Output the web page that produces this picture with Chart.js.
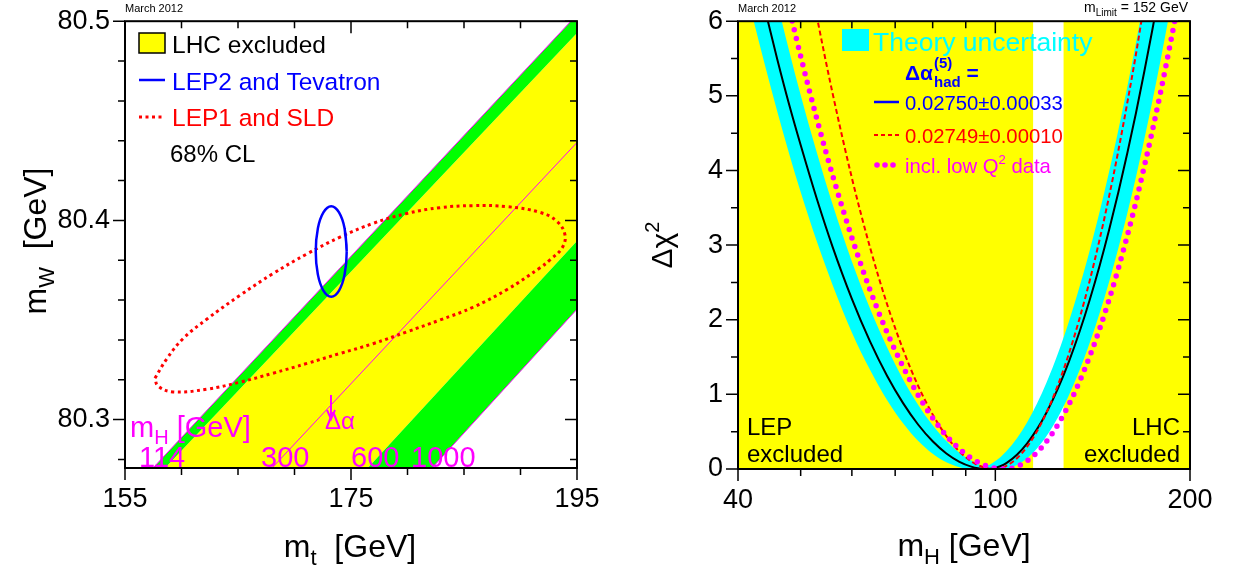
<!DOCTYPE html>
<html>
<head>
<meta charset="utf-8">
<script src="https://cdn.jsdelivr.net/npm/chart.js@4.4.1/dist/chart.umd.min.js"></script>
<style>
  body { margin: 0; background: #fff; }
  #wrap { position: relative; width: 1234px; height: 569px; }
  canvas { position: absolute; top: 0; }
  #left { left: 0; }
  #right { left: 617px; }
</style>
</head>
<body>
<div id="wrap">
  <canvas id="left" width="617" height="569"></canvas>
  <canvas id="right" width="617" height="569"></canvas>
</div>
<script>
// ---- left panel: mW vs mt ----
const mtTicks = [155, 160, 165, 170, 175, 180, 185, 190, 195];
const mtLabels = [155, 175, 195];
const mwTicks = [80.28, 80.30, 80.32, 80.34, 80.36, 80.38, 80.40, 80.42, 80.44, 80.46, 80.48, 80.50];
const mwLabels = [80.3, 80.4, 80.5];

// SM lines of constant mH, [mt, mW] end points (clipped by the frame)
const lineMH114 = [[156.54, 80.27], [200, 80.5336]];
const lineMH127 = [[157.59, 80.27], [200, 80.5240]];
const lineMH300 = [[167.00, 80.2696], [200, 80.4694]];
const lineMH600 = [[175.56, 80.27], [200, 80.4204]];
const lineMH1000 = [[181.25, 80.27], [200, 80.3865]];

// 68% CL contours
const lep2Mt = [174.62, 174.44, 173.94, 173.25, 172.56, 172.06, 171.88, 172.06, 172.56, 173.25, 173.94, 174.44, 174.62, 174.44];
const lep2Mw = [80.3844, 80.3957, 80.4040, 80.4071, 80.4040, 80.3957, 80.3844, 80.3731, 80.3648, 80.3617, 80.3648, 80.3731, 80.3844, 80.3957];
const lep1Mt = [157.65, 158.72, 160.13, 162.26, 165.18, 168.10, 171.11, 174.03, 176.95, 179.96, 182.88, 185.80, 188.81, 191.73, 193.23, 193.94,
                193.67, 192.61, 191.73, 188.81, 185.80, 182.88, 179.96, 176.95, 174.03, 171.11, 168.10, 165.18, 162.26, 159.25, 157.92, 157.65];
const lep1Mw = [80.3208, 80.3307, 80.3406, 80.3505, 80.3624, 80.3733, 80.3832, 80.3916, 80.3985, 80.4035, 80.4064, 80.4074, 80.4069, 80.4040, 80.3995, 80.3926,
                80.3861, 80.3802, 80.3762, 80.3653, 80.3564, 80.3500, 80.3441, 80.3381, 80.3332, 80.3282, 80.3233, 80.3188, 80.3153, 80.3139, 80.3168, 80.3208];

// ---- right panel: delta chi2 vs mH ----
const mhTicks = [40, 50, 60, 70, 80, 90, 100, 200];
const mhLabels = [40, 100, 200];
const chiTicks = [0, 0.5, 1, 1.5, 2, 2.5, 3, 3.5, 4, 4.5, 5, 5.5, 6];
const chiLabels = [0, 1, 2, 3, 4, 5, 6];

const lepExcluded = [[40, 0], [40, 6], [114.4, 6], [114.4, 0]];
const lhcExcluded = [[127.5, 0], [127.5, 6], [200, 6], [200, 0]];

const bandMh = [40, 42, 44, 46, 48, 50, 53, 56, 60, 64, 68, 72, 76, 80, 84, 88, 92, 94, 96, 98, 100, 102, 104, 108, 112, 116, 120, 125, 130, 135, 140, 145, 150, 155, 160, 165, 170, 175, 180, 185, 190];
const bandHigh = [8.64, 7.76, 6.97, 6.25, 5.60, 5.01, 4.23, 3.55, 2.78, 2.15, 1.63, 1.20, 0.858, 0.586, 0.375, 0.218, 0.107, 0.068, 0.038, 0.058, 0.106, 0.165, 0.237, 0.413, 0.628, 0.878, 1.159, 1.551, 1.981, 2.444, 2.935, 3.450, 3.988, 4.547, 5.122, 5.711, 6.324, 6.937, 7.563, 8.198, 8.833];
const bandLow = [6.89, 6.11, 5.42, 4.79, 4.22, 3.71, 3.04, 2.47, 1.83, 1.33, 0.925, 0.613, 0.376, 0.205, 0.0897, 0.0238, 0, 0, 0, 0, 0, 0, 0.0056, 0.0533, 0.145, 0.276, 0.442, 0.695, 0.991, 1.326, 1.694, 2.090, 2.513, 2.960, 3.428, 3.912, 4.422, 4.937, 5.467, 6.010, 6.555];

const fitMh = [42, 44, 46, 48, 50, 53, 56, 60, 64, 68, 72, 76, 80, 84, 88, 92, 94, 96, 97, 98, 100, 102, 104, 108, 112, 116, 120, 125, 130, 135, 140, 145, 150, 155, 160, 165, 170, 175, 180, 185];
const fitChi2 = [6.91, 6.17, 5.49, 4.88, 4.34, 3.61, 2.98, 2.28, 1.71, 1.25, 0.883, 0.593, 0.371, 0.208, 0.0965, 0.029, 0.0108, 0.0014, 0, 0.0012, 0.0142, 0.04, 0.079, 0.191, 0.344, 0.534, 0.758, 1.081, 1.443, 1.842, 2.272, 2.727, 3.208, 3.711, 4.233, 4.769, 5.33, 5.895, 6.47, 7.06];

const altMh = [48, 50, 53, 56, 60, 64, 68, 72, 76, 80, 84, 88, 92, 94, 96, 98, 100, 102, 104, 108, 112, 116, 120, 125, 130, 135, 140, 145, 150, 155, 160, 165, 170, 175];
const altChi2 = [8.09, 7.22, 6.05, 5.04, 3.90, 2.97, 2.21, 1.60, 1.11, 0.730, 0.441, 0.234, 0.096, 0.051, 0.021, 0.004, 0.0003, 0.012, 0.041, 0.143, 0.301, 0.506, 0.757, 1.127, 1.55, 2.02, 2.53, 3.08, 3.66, 4.27, 4.91, 5.56, 6.25, 6.94];

const lowQ2Mh = [44, 46, 48, 50, 53, 56, 60, 64, 68, 72, 76, 80, 84, 88, 92, 94, 96, 98, 100, 102, 104, 108, 112, 116, 120, 125, 130, 135, 140, 145, 150, 155, 160, 165, 170, 175, 180, 185, 190];
const lowQ2Chi2 = [7.65, 6.87, 6.17, 5.53, 4.68, 3.94, 3.10, 2.40, 1.83, 1.37, 0.986, 0.683, 0.447, 0.268, 0.139, 0.092, 0.056, 0.028, 0.011, 0.0015, 0.001, 0.033, 0.109, 0.221, 0.369, 0.597, 0.867, 1.174, 1.513, 1.880, 2.274, 2.691, 3.127, 3.580, 4.058, 4.541, 5.038, 5.548, 6.061];

const FONT = '"Liberation Sans", Arial, Helvetica, sans-serif';
Chart.defaults.font.family = FONT;

function isMajor(v, list) {
  return list.some(m => Math.abs(m - v) < 1e-9);
}

function pairs(arr) {
  return arr.map(p => ({ x: p[0], y: p[1] }));
}

function zip(xs, ys) {
  return xs.map((x, i) => ({ x: x, y: ys[i] }));
}

function shape(points, color, order) {
  return {
    data: points, showLine: true, fill: 'shape', backgroundColor: color,
    borderColor: 'rgba(0,0,0,0)', borderWidth: 0, pointRadius: 0, order: order
  };
}

function curve(points, color, width, dash, order, extra) {
  return Object.assign({
    data: points, showLine: true, fill: false, borderColor: color, borderWidth: width,
    borderDash: dash, pointRadius: 0, order: order
  }, extra || {});
}

// rich text: parts = [{t, s, dy, b}]
function txt(ctx, x, y, parts, align) {
  let w = 0;
  parts.forEach(p => {
    ctx.font = (p.b ? 'bold ' : '') + p.s + 'px ' + FONT;
    p.w = ctx.measureText(p.t).width;
    w += p.w;
  });
  let cx = align === 'center' ? x - w / 2 : (align === 'right' ? x - w : x);
  ctx.textAlign = 'left';
  ctx.textBaseline = 'alphabetic';
  parts.forEach(p => {
    ctx.font = (p.b ? 'bold ' : '') + p.s + 'px ' + FONT;
    ctx.fillText(p.t, cx, y + (p.dy || 0));
    cx += p.w;
  });
  return cx;
}

function seg(ctx, x1, y1, x2, y2, color, width, dash) {
  ctx.save();
  ctx.strokeStyle = color;
  ctx.lineWidth = width;
  ctx.setLineDash(dash || []);
  ctx.beginPath();
  ctx.moveTo(x1, y1);
  ctx.lineTo(x2, y2);
  ctx.stroke();
  ctx.restore();
}

// frame with ticks: outside on bottom/left, inside on top/right
function frame(xTicks, xMajor, yTicks, yMajor, decorate) {
  return {
    id: 'frame',
    afterDraw(chart) {
      const ctx = chart.ctx, a = chart.chartArea;
      const xs = chart.scales.x, ys = chart.scales.y;
      ctx.save();
      ctx.strokeStyle = '#000';
      ctx.lineWidth = 1.5;
      ctx.beginPath();
      xTicks.forEach(v => {
        const px = xs.getPixelForValue(v);
        const len = isMajor(v, xMajor) ? 12 : 7;
        ctx.moveTo(px, a.bottom); ctx.lineTo(px, a.bottom + len);
        ctx.moveTo(px, a.top); ctx.lineTo(px, a.top + len);
      });
      yTicks.forEach(v => {
        const py = ys.getPixelForValue(v);
        const len = isMajor(v, yMajor) ? 12 : 7;
        ctx.moveTo(a.left - len, py); ctx.lineTo(a.left, py);
        ctx.moveTo(a.right - len, py); ctx.lineTo(a.right, py);
      });
      ctx.stroke();
      ctx.lineWidth = 2;
      ctx.strokeRect(a.left, a.top, a.right - a.left, a.bottom - a.top);
      decorate(ctx, chart);
      ctx.restore();
    }
  };
}

function axisOpts(type, min, max, tickVals, labels, fmt, size) {
  return {
    type: type, min: min, max: max,
    afterBuildTicks: s => { s.ticks = tickVals.map(v => ({ value: v })); },
    grid: { display: true, drawOnChartArea: false, drawTicks: true, tickLength: 10, tickColor: 'rgba(0,0,0,0)' },
    border: { display: false },
    ticks: {
      autoSkip: false, maxRotation: 0, minRotation: 0, padding: 5, color: '#000',
      font: { size: 27 },
      callback: v => isMajor(v, labels) ? fmt(v) : ''
    },
    afterFit: s => { if (s.isHorizontal()) s.height = size; else s.width = size; }
  };
}

// ---- left chart ----
function decorLeft(ctx) {
  ctx.fillStyle = '#000';
  txt(ctx, 125, 12, [{ t: 'March 2012', s: 11 }]);

  ctx.fillStyle = '#ffff00';
  ctx.fillRect(139, 33, 26, 20);
  ctx.strokeStyle = '#000';
  ctx.lineWidth = 1.5;
  ctx.strokeRect(139, 33, 26, 20);
  ctx.fillStyle = '#000';
  txt(ctx, 172, 53, [{ t: 'LHC excluded', s: 24.5 }]);

  seg(ctx, 139, 80, 165, 80, '#0000ff', 2.5);
  ctx.fillStyle = '#0000ff';
  txt(ctx, 172, 90, [{ t: 'LEP2 and Tevatron', s: 24.5 }]);

  seg(ctx, 139, 117, 165, 117, '#ff0000', 3, [3, 3.5]);
  ctx.fillStyle = '#ff0000';
  txt(ctx, 172, 126, [{ t: 'LEP1 and SLD', s: 24.5 }]);

  ctx.fillStyle = '#000';
  txt(ctx, 170, 162, [{ t: '68% CL', s: 24 }]);

  // mH labels along the bottom
  ctx.fillStyle = '#ff00ff';
  txt(ctx, 130, 437, [{ t: 'm', s: 29 }, { t: 'H', s: 20, dy: 7 }, { t: ' [GeV]', s: 29 }]);
  txt(ctx, 139, 467, [{ t: '114', s: 29 }]);
  txt(ctx, 261, 467, [{ t: '300', s: 29 }]);
  txt(ctx, 351, 467, [{ t: '600', s: 29 }]);
  txt(ctx, 411, 467, [{ t: '1000', s: 29 }]);

  seg(ctx, 331, 395, 331, 419, '#ff00ff', 2);
  ctx.strokeStyle = '#ff00ff';
  ctx.lineWidth = 2;
  ctx.beginPath();
  ctx.moveTo(327, 410); ctx.lineTo(331, 419); ctx.lineTo(335, 410);
  ctx.stroke();
  txt(ctx, 325, 429, [{ t: '\u0394\u03b1', s: 24 }]);

  // axis titles
  ctx.fillStyle = '#000';
  txt(ctx, 350, 557, [{ t: 'm', s: 32 }, { t: 't', s: 22, dy: 8 }, { t: '  [GeV]', s: 32 }], 'center');
  ctx.save();
  ctx.translate(46, 241);
  ctx.rotate(-Math.PI / 2);
  txt(ctx, 0, 0, [{ t: 'm', s: 32 }, { t: 'W', s: 22, dy: 8 }, { t: '  [GeV]', s: 32 }], 'center');
  ctx.restore();
}

const greenLow = pairs(lineMH114.concat(lineMH127.slice().reverse()));
const yellowMid = pairs(lineMH127.concat(lineMH600.slice().reverse()));
const greenHigh = pairs(lineMH600.concat(lineMH1000.slice().reverse()));

new Chart(document.getElementById('left'), {
  type: 'scatter',
  data: {
    datasets: [
      curve(zip(lep2Mt, lep2Mw), '#0000ff', 2.5, [], 0, { tension: 0.45 }),
      curve(zip(lep1Mt, lep1Mw), '#ff0000', 3, [3, 3.5], 1, { tension: 0.4 }),
      curve(pairs(lineMH114), '#ff00ff', 1, [], 2),
      curve(pairs(lineMH300), '#ff00ff', 1, [], 2),
      curve(pairs(lineMH1000), '#ff00ff', 1, [], 2),
      shape(greenLow, '#00ff00', 5),
      shape(greenHigh, '#00ff00', 5),
      shape(yellowMid, '#ffff00', 6)
    ]
  },
  options: {
    responsive: false, animation: false, devicePixelRatio: 1,
    layout: { padding: { left: 0, top: 15, right: 40, bottom: 0 } },
    plugins: { legend: { display: false }, tooltip: { enabled: false } },
    scales: {
      x: axisOpts('linear', 155, 195, mtTicks, mtLabels, v => String(v), 101),
      y: axisOpts('linear', 80.2757, 80.5, mwTicks, mwLabels, v => v.toFixed(1), 125)
    }
  },
  plugins: [frame(mtTicks, mtLabels, mwTicks, mwLabels, decorLeft)]
});

// ---- right chart ----
function decorRight(ctx) {
  ctx.save();
  ctx.translate(-617, 0);
  ctx.fillStyle = '#000';
  txt(ctx, 738, 12, [{ t: 'March 2012', s: 11 }]);
  txt(ctx, 1188, 12, [{ t: 'm', s: 14 }, { t: 'Limit', s: 10, dy: 4 }, { t: ' = 152 GeV', s: 14 }], 'right');

  ctx.fillStyle = '#00ffff';
  ctx.fillRect(842, 29, 27, 22);
  txt(ctx, 873, 51, [{ t: 'Theory uncertainty', s: 26.5 }]);

  ctx.fillStyle = '#0000ff';
  const xa = txt(ctx, 905, 80, [{ t: '\u0394\u03b1', s: 21, b: true }]);
  txt(ctx, xa + 1, 68, [{ t: '(5)', s: 15, b: true }]);
  const xb = txt(ctx, xa + 1, 87, [{ t: 'had', s: 15, b: true }]);
  txt(ctx, xb, 80, [{ t: ' =', s: 21, b: true }]);

  seg(ctx, 874, 102, 899, 102, '#0000ff', 2.5);
  txt(ctx, 905, 110, [{ t: '0.02750\u00b10.00033', s: 20.3 }]);

  seg(ctx, 874, 135, 899, 135, '#ff0000', 2, [4, 3]);
  ctx.fillStyle = '#ff0000';
  txt(ctx, 905, 143, [{ t: '0.02749\u00b10.00010', s: 20.3 }]);

  ctx.fillStyle = '#ff00ff';
  [877, 885, 893].forEach(x => { ctx.beginPath(); ctx.arc(x, 165, 2.8, 0, Math.PI * 2); ctx.fill(); });
  txt(ctx, 905, 173, [{ t: 'incl. low Q', s: 20.3 }, { t: '2', s: 13, dy: -9 }, { t: ' data', s: 20.3 }]);

  ctx.fillStyle = '#000';
  txt(ctx, 747, 435, [{ t: 'LEP', s: 24 }]);
  txt(ctx, 747, 462, [{ t: 'excluded', s: 24 }]);
  txt(ctx, 1180, 435, [{ t: 'LHC', s: 24 }], 'right');
  txt(ctx, 1180, 462, [{ t: 'excluded', s: 24 }], 'right');

  txt(ctx, 964, 556, [{ t: 'm', s: 32 }, { t: 'H', s: 22, dy: 8 }, { t: ' [GeV]', s: 32 }], 'center');
  ctx.translate(672, 245);
  ctx.rotate(-Math.PI / 2);
  txt(ctx, 0, 0, [{ t: '\u0394\u03c7', s: 30 }, { t: '2', s: 20, dy: -13 }], 'center');
  ctx.restore();
}

new Chart(document.getElementById('right'), {
  type: 'scatter',
  data: {
    datasets: [
      curve(zip(lowQ2Mh, lowQ2Chi2), '#ff00ff', 5.5, [0, 9], 0, { cubicInterpolationMode: 'monotone', borderCapStyle: 'round' }),
      curve(zip(altMh, altChi2), '#ff0000', 2, [5, 3], 1, { cubicInterpolationMode: 'monotone' }),
      curve(zip(fitMh, fitChi2), '#000000', 2, [], 2, { cubicInterpolationMode: 'monotone' }),
      curve(zip(bandMh, bandHigh), 'rgba(0,0,0,0)', 0, [], 5, { cubicInterpolationMode: 'monotone' }),
      curve(zip(bandMh, bandLow), 'rgba(0,0,0,0)', 0, [], 5, { cubicInterpolationMode: 'monotone', fill: 3, backgroundColor: '#00ffff' }),
      shape(pairs(lepExcluded), '#ffff00', 9),
      shape(pairs(lhcExcluded), '#ffff00', 9)
    ]
  },
  options: {
    responsive: false, animation: false, devicePixelRatio: 1,
    layout: { padding: { left: 0, top: 15, right: 44, bottom: 0 } },
    plugins: { legend: { display: false }, tooltip: { enabled: false } },
    scales: {
      x: axisOpts('logarithmic', 40, 200, mhTicks, mhLabels, v => String(v), 100),
      y: axisOpts('linear', 0, 6, chiTicks, chiLabels, v => String(v), 121)
    }
  },
  plugins: [frame(mhTicks, mhLabels, chiTicks, chiLabels, decorRight)]
});
</script>
</body>
</html>
